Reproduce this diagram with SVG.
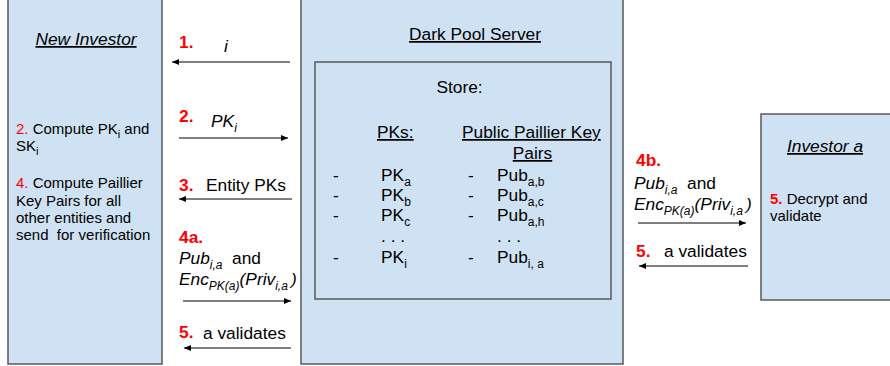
<svg xmlns="http://www.w3.org/2000/svg" width="890" height="366" viewBox="0 0 890 366">
<defs>
<style>
.box{fill:#cfe2f3;stroke:#595959;stroke-width:1.5}
text{font-family:"Liberation Sans",Arial,sans-serif;fill:#000}
.t{font-size:17.33px}
.s{font-size:15px}
.sub{font-size:12px}
.subs{font-size:11px}
.it{font-style:italic}
.u{text-decoration:underline}
.num{fill:#ff0000;font-weight:bold}
.red{fill:#ff0000}
.ar{stroke:#000;stroke-width:1;fill:none;marker-end:url(#ah)}
</style>
<marker id="ah" markerUnits="userSpaceOnUse" markerWidth="8" markerHeight="6" refX="7" refY="3" orient="auto">
<path d="M0,0 L7,3 L0,6 z" fill="#000"/>
</marker>
</defs>
<rect width="890" height="366" fill="#fff"/>

<g id="new-investor">
<rect class="box" x="8" y="-5" width="154" height="369"/>
<text class="t it u" x="86" y="45" text-anchor="middle">New Investor</text>
<text class="s" x="16" y="134"><tspan class="red">2.</tspan> Compute PK<tspan class="subs" dy="4">i</tspan><tspan dy="-4"> and</tspan></text>
<text class="s" x="16" y="151">SK<tspan class="subs" dy="4">i</tspan></text>
<text class="s" x="16" y="188"><tspan class="red">4.</tspan> Compute Paillier</text>
<text class="s" x="16" y="205.5">Key Pairs for all</text>
<text class="s" x="16" y="223">other entities and</text>
<text class="s" x="16" y="240" xml:space="preserve">send  for verification</text>
</g>

<g id="dark-pool-server">
<rect class="box" x="301" y="-5" width="322" height="369"/>
<text class="t u" x="475" y="40" text-anchor="middle">Dark Pool Server</text>
<g id="store">
<rect class="box" x="315" y="62" width="296" height="237"/>
<text class="t" x="459.5" y="93" text-anchor="middle">Store:</text>
<text class="t u" x="377" y="138">PKs:</text>
<text class="t u" x="462" y="138">Public Paillier Key</text>
<text class="t u" x="532.5" y="159" text-anchor="middle">Pairs</text>
<text class="t" x="333" y="181">-</text>
<text class="t" x="381" y="181">PK<tspan class="sub" dy="5">a</tspan></text>
<text class="t" x="333" y="201">-</text>
<text class="t" x="381" y="201">PK<tspan class="sub" dy="5">b</tspan></text>
<text class="t" x="333" y="221">-</text>
<text class="t" x="381" y="221">PK<tspan class="sub" dy="5">c</tspan></text>
<text class="t" x="381" y="242">. . .</text>
<text class="t" x="333" y="263">-</text>
<text class="t" x="381" y="263">PK<tspan class="sub" dy="5">i</tspan></text>
<text class="t" x="468" y="181">-</text>
<text class="t" x="497" y="181">Pub<tspan class="sub" dy="5">a,b</tspan></text>
<text class="t" x="468" y="201">-</text>
<text class="t" x="497" y="201">Pub<tspan class="sub" dy="5">a,c</tspan></text>
<text class="t" x="468" y="221">-</text>
<text class="t" x="497" y="221">Pub<tspan class="sub" dy="5">a,h</tspan></text>
<text class="t" x="497" y="242">. . .</text>
<text class="t" x="468" y="263">-</text>
<text class="t" x="497" y="263">Pub<tspan class="sub" dy="5" xml:space="preserve">i, a</tspan></text>
</g>
</g>

<g id="investor-a">
<rect class="box" x="761" y="114" width="140" height="186"/>
<text class="t it u" x="825" y="152" text-anchor="middle">Investor a</text>
<text class="s" x="770" y="204"><tspan class="num">5.</tspan> Decrypt and</text>
<text class="s" x="770" y="221">validate</text>
</g>

<g id="connectors">
<line class="ar" x1="290" y1="62" x2="172" y2="62"/>
<line class="ar" x1="179" y1="138" x2="288" y2="138"/>
<line class="ar" x1="292" y1="199" x2="179" y2="199"/>
<line class="ar" x1="183" y1="301" x2="291" y2="301"/>
<line class="ar" x1="291" y1="348" x2="184" y2="348"/>
<line class="ar" x1="638" y1="223" x2="746" y2="223"/>
<line class="ar" x1="748" y1="266" x2="639" y2="266"/>
<g id="connector-labels">
<text class="t num" x="179" y="48">1.</text>
<text class="t it" x="224" y="52">i</text>
<text class="t num" x="179" y="122">2.</text>
<text class="t it" x="211" y="127">PK<tspan class="sub" dy="5">i</tspan></text>
<text class="t num" x="179" y="191">3.</text>
<text class="t" x="206" y="191">Entity PKs</text>
<text class="t num" x="179" y="243">4a.</text>
<text class="t" x="179" y="264"><tspan class="it">Pub</tspan><tspan class="sub it" dy="5">i,a</tspan><tspan x="232" dy="-5">and</tspan></text>
<text class="t it" x="179" y="285">Enc<tspan class="sub" dy="5">PK(a)</tspan><tspan dy="-5">(Priv</tspan><tspan class="sub" dy="5">i,a</tspan><tspan x="291" dy="-5">)</tspan></text>
<text class="t num" x="179" y="338">5.</text>
<text class="t" x="203" y="339">a validates</text>
<text class="t num" x="636" y="166">4b.</text>
<text class="t" x="634" y="189"><tspan class="it">Pub</tspan><tspan class="sub it" dy="5">i,a</tspan><tspan x="687" dy="-5">and</tspan></text>
<text class="t it" x="634" y="210">Enc<tspan class="sub" dy="5">PK(a)</tspan><tspan dy="-5">(Priv</tspan><tspan class="sub" dy="5">i,a</tspan><tspan x="746" dy="-5">)</tspan></text>
<text class="t num" x="636" y="257">5.</text>
<text class="t" x="664" y="257">a validates</text>
</g>
</g>
</svg>
